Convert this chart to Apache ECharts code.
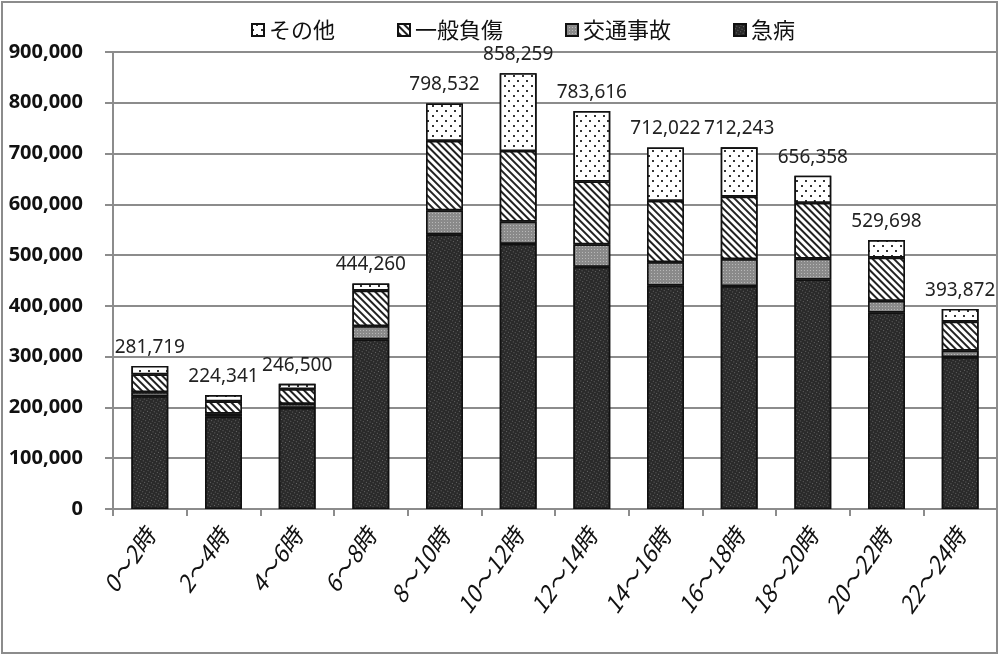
<!DOCTYPE html>
<html>
<head>
<meta charset="utf-8">
<script src="https://cdn.jsdelivr.net/npm/echarts@6/dist/echarts.min.js"></script>
<style>
    html, body { margin: 0; padding: 0; background: #fff; }
    #chart { width: 1000px; height: 657px; }
</style>
</head>
<body>
<div id="chart"></div>
<script>
// 時間帯
var categories = ['0～2時', '2～4時', '4～6時', '6～8時', '8～10時', '10～12時',
    '12～14時', '14～16時', '16～18時', '18～20時', '20～22時', '22～24時'];
// 事故種別ごとの件数
var kyubyo = [222000, 182000, 199000, 334000, 541000, 522000, 477000, 440000, 439000, 452000, 387000, 299000];
var kotsu = [8000, 6000, 8000, 26000, 47000, 44000, 44000, 46000, 53000, 41000, 23000, 13000];
var ippan = [35000, 24000, 29000, 70000, 137000, 139000, 124000, 121000, 123000, 110000, 85000, 57000];
var sonota = [16719, 12341, 10500, 14260, 73532, 153259, 138616, 105022, 97243, 53358, 34698, 24872];
// 合計（棒の上のラベル）
var totals = [281719, 224341, 246500, 444260, 798532, 858259, 783616, 712022, 712243, 656358, 529698, 393872];
var yTicks = [0, 100000, 200000, 300000, 400000, 500000, 600000, 700000, 800000, 900000];

var fmt = function (v) {
    return String(v).replace(/\B(?=(\d{3})+(?!\d))/g, ',');
};

var myChart = echarts.init(document.getElementById('chart'));
var barBorder = {borderColor: '#111', borderWidth: 1.6};

var option = {
    animation: false,
    aria: {enabled: true, decal: {show: true}},
    textStyle: {fontFamily: '"Noto Sans", "Noto Sans CJK JP", sans-serif'},
    graphic: [{
        type: 'rect',
        shape: {x: 2, y: 2, width: 995, height: 651},
        style: {fill: 'none', stroke: '#8c8c8c', lineWidth: 2},
        silent: true
    }],
    legend: {
        data: ['その他', '一般負傷', '交通事故', '急病'],
        icon: 'rect',
        left: 246,
        top: 14,
        itemWidth: 12,
        itemHeight: 12,
        itemGap: 62,
        textStyle: {fontSize: 22, color: '#111', fontFamily: '"Noto Sans CJK JP", sans-serif'}
    },
    grid: {left: 113, right: 3, top: 52, bottom: 148},
    xAxis: {
        type: 'category',
        data: categories,
        axisLine: {lineStyle: {color: '#8c8c8c', width: 2}},
        axisTick: {show: true, length: 7, lineStyle: {color: '#8c8c8c', width: 2}},
        axisLabel: {
            rotate: 55,
            margin: 22,
            fontSize: 23,
            color: '#111',
            fontStyle: 'italic',
            fontFamily: '"Noto Sans CJK JP", sans-serif'
        }
    },
    yAxis: {
        type: 'value',
        min: 0,
        max: yTicks[yTicks.length - 1],
        interval: 100000,
        axisLine: {show: true, lineStyle: {color: '#8c8c8c', width: 2}},
        axisTick: {show: true, length: 8, lineStyle: {color: '#8c8c8c', width: 2}},
        axisLabel: {
            formatter: fmt,
            fontSize: 20,
            fontWeight: 'bold',
            color: '#111',
            margin: 30
        },
        splitLine: {lineStyle: {color: '#8c8c8c', width: 2}}
    },
    series: [
        {
            name: '急病',
            type: 'bar',
            stack: 'all',
            barWidth: '50%',
            itemStyle: Object.assign({
                color: '#2a2a2a',
                decal: {
                    symbol: 'rect', symbolSize: 1,
                    color: '#666666', backgroundColor: '#2a2a2a',
                    dashArrayX: [1, 2], dashArrayY: [1, 2]
                }
            }, barBorder),
            data: kyubyo
        },
        {
            name: '交通事故',
            type: 'bar',
            stack: 'all',
            itemStyle: Object.assign({
                color: '#8a8a8a',
                decal: {
                    symbol: 'rect', symbolSize: 1,
                    color: '#b8b8b8', backgroundColor: '#8a8a8a',
                    dashArrayX: [1, 2], dashArrayY: [1, 2]
                }
            }, barBorder),
            data: kotsu
        },
        {
            name: '一般負傷',
            type: 'bar',
            stack: 'all',
            itemStyle: Object.assign({
                color: '#ffffff',
                decal: {
                    symbol: 'rect', symbolSize: 1,
                    color: '#222', backgroundColor: '#ffffff',
                    dashArrayX: [1, 0], dashArrayY: [1.5, 3],
                    rotation: Math.PI / 4
                }
            }, barBorder),
            data: ippan
        },
        {
            name: 'その他',
            type: 'bar',
            stack: 'all',
            itemStyle: Object.assign({
                color: '#ffffff',
                decal: {
                    symbol: 'rect', symbolSize: 1,
                    color: '#333', backgroundColor: '#ffffff',
                    dashArrayX: [[1.5, 6.5], [0, 4, 1.5, 2.5]], dashArrayY: [1.5, 3]
                }
            }, barBorder),
            label: {
                show: true,
                position: 'top',
                distance: 9,
                fontSize: 19,
                color: '#222',
                formatter: function (p) {
                    return fmt(totals[p.dataIndex]);
                }
            },
            data: sonota
        }
    ]
};
myChart.setOption(option);
</script>
</body>
</html>
